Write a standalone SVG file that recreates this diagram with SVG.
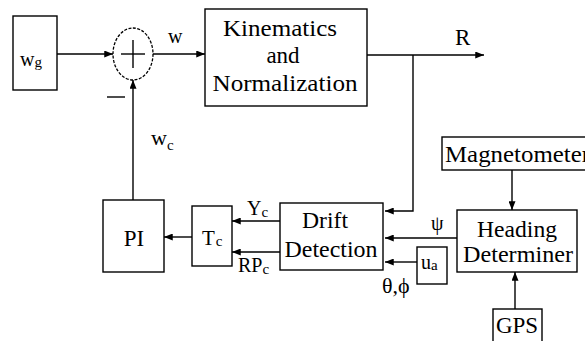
<svg xmlns="http://www.w3.org/2000/svg" width="585" height="341" viewBox="0 0 585 341">
<defs>
<marker id="ah" viewBox="0 0 10 8" refX="10" refY="4" markerWidth="9" markerHeight="7" markerUnits="userSpaceOnUse" orient="auto">
<path d="M0,0 L10,4 L0,8 Z" fill="#000"/>
</marker>
</defs>
<style>
.box{fill:none;stroke:#000;stroke-width:1.4}
.c{stroke:#000;stroke-width:1.4;fill:none}
.a{marker-end:url(#ah)}
</style>
<rect width="585" height="341" fill="#fff"/>
<g id="wg">
<rect class="box" x="13" y="16" width="44" height="74"/>
<text font-family="Times New Roman" font-size="20" x="20" y="66">w<tspan font-size="15" dy="1">g</tspan></text>
</g>
<g id="sum">
<ellipse cx="133" cy="54" rx="20" ry="26" fill="none" stroke="#000" stroke-width="1.3" stroke-dasharray="3 1.5"/>
<line class="c" x1="121" y1="54" x2="145" y2="54"/>
<line class="c" x1="133" y1="40" x2="133" y2="68"/>
<line class="c" x1="107" y1="97" x2="125" y2="97"/>
</g>
<g id="kin">
<rect class="box" x="205" y="9" width="162" height="97"/>
<text font-family="Times New Roman" font-size="23" x="280" y="36" text-anchor="middle" textLength="114" lengthAdjust="spacingAndGlyphs">Kinematics</text>
<text font-family="Times New Roman" font-size="23" x="283" y="63" text-anchor="middle">and</text>
<text font-family="Times New Roman" font-size="23" x="285" y="91" text-anchor="middle" textLength="145" lengthAdjust="spacingAndGlyphs">Normalization</text>
</g>
<g id="pi">
<rect class="box" x="103" y="200" width="61" height="72"/>
<text font-family="Times New Roman" font-size="23" x="134" y="246" text-anchor="middle">PI</text>
</g>
<g id="tc">
<rect class="box" x="192" y="206" width="40" height="60"/>
<text font-family="Times New Roman" font-size="21" x="202" y="245">T<tspan font-size="15" dx="1" dy="1">c</tspan></text>
</g>
<g id="drift">
<rect class="box" x="280" y="203" width="103" height="67"/>
<text font-family="Times New Roman" font-size="23" x="325" y="228" text-anchor="middle" textLength="46" lengthAdjust="spacingAndGlyphs">Drift</text>
<text font-family="Times New Roman" font-size="23" x="331" y="257" text-anchor="middle" textLength="93" lengthAdjust="spacingAndGlyphs">Detection</text>
</g>
<g id="ua">
<rect class="box" x="417" y="247" width="30" height="37"/>
<text font-family="Times New Roman" font-size="20" x="421" y="269">u<tspan font-size="15" dy="1">a</tspan></text>
</g>
<g id="heading">
<rect class="box" x="457" y="210" width="120" height="62"/>
<text font-family="Times New Roman" font-size="23" x="517" y="237" text-anchor="middle" textLength="80" lengthAdjust="spacingAndGlyphs">Heading</text>
<text font-family="Times New Roman" font-size="23" x="518" y="262" text-anchor="middle" textLength="110" lengthAdjust="spacingAndGlyphs">Determiner</text>
</g>
<g id="mag">
<rect class="box" x="442" y="137" width="160" height="33"/>
<text font-family="Times New Roman" font-size="23" x="445" y="162" textLength="145" lengthAdjust="spacingAndGlyphs">Magnetometer</text>
</g>
<g id="gps">
<rect class="box" x="493" y="309" width="49" height="40"/>
<text font-family="Times New Roman" font-size="23" x="517" y="333" text-anchor="middle">GPS</text>
</g>
<g id="connectors">
<line class="c a" x1="57" y1="54" x2="113" y2="54"/>
<line class="c a" x1="153" y1="54" x2="205" y2="54"/>
<line class="c a" x1="367" y1="55" x2="484" y2="55"/>
<polyline class="c a" points="413,55 413,211 385,211"/>
<line class="c a" x1="457" y1="238" x2="385" y2="238"/>
<line class="c a" x1="417" y1="262" x2="385" y2="262"/>
<line class="c a" x1="280" y1="221" x2="232" y2="221"/>
<line class="c a" x1="280" y1="252" x2="232" y2="252"/>
<line class="c a" x1="192" y1="237" x2="164" y2="237"/>
<line class="c a" x1="133" y1="200" x2="133" y2="80"/>
<line class="c a" x1="512" y1="170" x2="512" y2="210"/>
<line class="c a" x1="515" y1="309" x2="515" y2="272"/>
</g>
<g id="labels">
<text font-family="Times New Roman" font-size="20" x="168" y="43">w</text>
<text font-family="Times New Roman" font-size="23" x="455" y="45">R</text>
<text font-family="Times New Roman" font-size="22" x="151" y="145">w<tspan font-size="15" dy="5">c</tspan></text>
<text font-family="Times New Roman" font-size="20" x="247" y="215">Y<tspan font-size="15" dy="2">c</tspan></text>
<text font-family="Times New Roman" font-size="20" x="238" y="272">RP<tspan font-size="15" dy="2">c</tspan></text>
<text font-family="Times New Roman" font-size="20" x="431" y="230">ψ</text>
<text font-family="Times New Roman" font-size="22" x="382" y="293">θ,ϕ</text>
</g>
</svg>
